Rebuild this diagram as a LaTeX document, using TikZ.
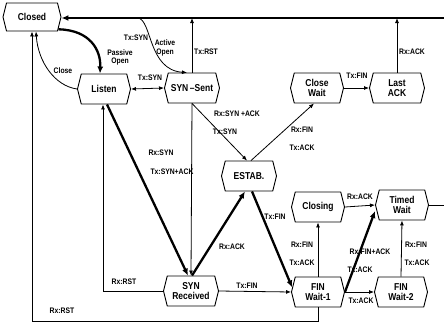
\documentclass[tikz,border=0pt]{standalone}
\usepackage{fontspec}
\setmainfont{Liberation Sans}[FakeStretch=0.85]
\usetikzlibrary{shapes.symbols,arrows.meta,calc}
\begin{document}
\begin{tikzpicture}[x=1pt,y=-1pt,
 st/.style={draw,line width=0.9pt,shape=signal,signal to=east and west,signal pointer angle=152,
   minimum width=53pt,minimum height=30pt,inner sep=1pt,align=center,
   font=\fontsize{10}{10.5}\selectfont\bfseries},
 ln/.style={line width=0.8pt,-{Latex[length=5pt,width=4pt]}},
 tk/.style={line width=2.3pt,-{Latex[length=7pt,width=6pt]}},
 lb/.style={font=\fontsize{8}{8.5}\selectfont\bfseries,inner sep=0pt}]
\useasboundingbox (0,0) rectangle (444,324);
% nodes
\node[st,minimum width=58pt,minimum height=28pt] (closed) at (32,17) {Closed};
\node[st] (listen) at (104,89) {Listen};
\node[st,minimum width=55pt] (synsent) at (192,88) {SYN\,--Sent};
\node[st] (closewait) at (317,88) {Close\\Wait};
\node[st,minimum width=55pt] (lastack) at (397,88) {Last\\ACK};
\node[st,minimum width=55pt] (estab) at (249,176) {ESTAB.};
\node[st] (closing) at (318,207) {Closing};
\node[st] (timedwait) at (402,205) {Timed\\Wait};
\node[st,minimum width=55pt] (synrcvd) at (191,291) {SYN\\Received};
\node[st] (finwait1) at (318,292) {FIN\\Wait-1};
\node[st] (finwait2) at (401,292) {FIN\\Wait-2};
\coordinate (topR) at (444,18);
\coordinate (twR) at (444,205);
% connectors
\draw[tk] (topR) -- (topR -| closed.east);
\draw[ln] (synsent.north) -- (synsent.north |- topR);
\draw[ln] (lastack.north) -- (lastack.north |- topR);
\draw[line width=0.8pt] (timedwait.east) -- (twR);
\draw[tk] (closed.-25) .. controls (90,30) and (101,50) .. ($(listen.north)+(-4,0)$);
\draw[ln] (listen.west) .. controls (55,86) and (38,62) .. ($(closed.south)+(4,0)$);
\draw[ln] ($(closed.east)+(4,1)$) -- (138,18) .. controls (152,20) and (148,70) .. ($(synsent.north)+(-5,0)$);
\draw[ln,{Latex[length=5pt,width=4pt]}-{Latex[length=5pt,width=4pt]}] (listen.east) -- (synsent.west);
\draw[tk] ($(listen.south)+(3,0)$) -- ($(synrcvd.north)+(-3,0)$);
\draw[ln] (synsent.south) -- (synrcvd.north);
\draw[ln] (synsent.south) -- ($(estab.north)+(-2,0)$);
\draw[tk] ($(synrcvd.north)+(1,0)$) -- ($(estab.south)+(-4,0)$);
\draw[tk] ($(estab.south)+(3,0)$) -- (finwait1.170);
\draw[ln] ($(estab.north)+(2,0)$) -- ($(closewait.south)+(-3,0)$);
\draw[ln] (closewait.east) -- (lastack.west);
\draw[ln] (synrcvd.east) -- (finwait1.west);
\draw[ln] (synrcvd.west) -| ($(listen.south)+(-1,0)$);
\draw[ln] (finwait1.south) -- ++(0,14) -| (closed.south);
\draw[ln] (finwait1.north) -- (closing.south);
\draw[ln] (closing.east) -- (timedwait.west);
\draw[tk] (finwait1.east) -- ($(timedwait.west)+(0,6)$);
\draw[ln] (finwait1.east) -- (finwait2.west);
\draw[ln] (finwait2.north) -- (timedwait.south);
% labels
\node[lb] (l1) at (206,52) {Tx:RST};
\node[lb] (l2) at (412,52) {Rx:ACK};
\node[lb] (l3) at (120,53) {Passive};
\node[lb] (l4) at (120,62) {Open};
\node[lb] (l5) at (63,71) {Close};
\node[lb] (l6) at (136,38) {Tx:SYN};
\node[lb] (l7) at (165,43) {Active};
\node[lb] (l8) at (165,53) {Open};
\node[lb] (l9) at (150,78) {Tx:SYN};
\node[lb] (l10) at (161,153) {Rx:SYN};
\node[lb] (l11) at (172,172) {Tx:SYN+ACK};
\node[lb] (l12) at (237,114) {Rx:SYN +ACK};
\node[lb] (l13) at (225,132) {Tx:SYN};
\node[lb] (l14) at (232,247) {Rx:ACK};
\node[lb] (l15) at (275,217) {Tx:FIN};
\node[lb] (l16) at (302,130) {Rx:FIN};
\node[lb] (l17) at (302,148) {Tx:ACK};
\node[lb] (l18) at (357,76) {Tx:FIN};
\node[lb] (l19) at (360,197) {Rx:ACK};
\node[lb] (l20) at (302,245) {Rx:FIN};
\node[lb] (l21) at (302,263) {Tx:ACK};
\node[lb] (l22) at (370,252) {Rx:FIN+ACK};
\node[lb] (l23) at (360,270) {Tx:ACK};
\node[lb] (l24) at (361,301) {Tx:ACK};
\node[lb] (l25) at (416,245) {Rx:FIN};
\node[lb] (l26) at (417,263) {Tx:ACK};
\node[lb] (l27) at (247,286) {Tx:FIN};
\node[lb] (l28) at (124,282) {Rx:RST};
\node[lb] (l29) at (62,311) {Rx:RST};
\end{tikzpicture}
\end{document}
